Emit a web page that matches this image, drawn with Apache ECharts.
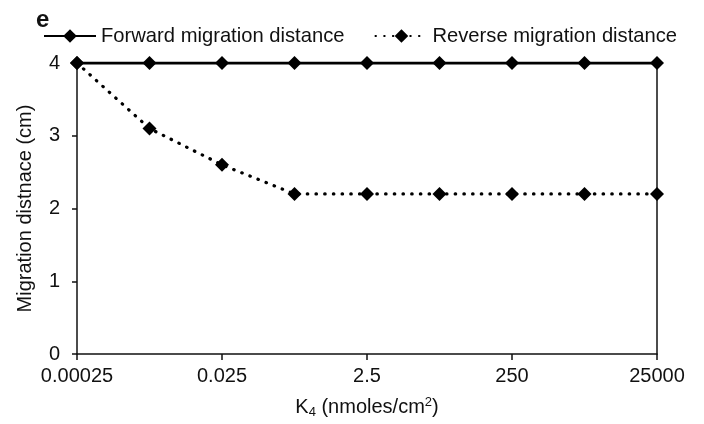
<!DOCTYPE html>
<html>
<head>
<meta charset="utf-8">
<script src="https://cdn.jsdelivr.net/npm/echarts@6/dist/echarts.min.js"></script>
<style>html,body{margin:0;padding:0;background:#fff}#c{width:704px;height:424px}</style>
</head>
<body>
<div id="c"></div>
<script>
var categories = ['0.00025', '0.0025', '0.025', '0.25', '2.5', '25', '250', '2500', '25000'];
var forward = [4, 4, 4, 4, 4, 4, 4, 4, 4];
var reverse = [4, 3.1, 2.6, 2.2, 2.2, 2.2, 2.2, 2.2, 2.2];
var yTicks = [0, 1, 2, 3, 4];

var FONT = '"Liberation Sans", Arial, sans-serif';
var chart = echarts.init(document.getElementById('c'), null, {renderer: 'canvas'});
chart.setOption({
  backgroundColor: '#fff',
  animation: false,
  textStyle: {fontFamily: FONT, color: '#111'},
  title: {
    text: 'e', left: 31, top: 3,
    textStyle: {fontFamily: FONT, fontWeight: 'bold', fontSize: 24, color: '#111'}
  },
  legend: {
    left: 43, top: 26, padding: 0,
    itemWidth: 52, itemHeight: 17, itemGap: 30,
    textStyle: {fontFamily: FONT, fontSize: 20.2, color: '#111'},
    data: ['Forward migration distance', 'Reverse migration distance']
  },
  grid: {left: 77, right: 47, top: 63, bottom: 70, containLabel: false},
  xAxis: {
    type: 'category',
    data: categories,
    boundaryGap: false,
    axisLine: {lineStyle: {color: '#111', width: 1.5}},
    axisTick: {show: true, interval: 1, length: 6, lineStyle: {color: '#111', width: 1.5}},
    axisLabel: {interval: 1, margin: 12, fontSize: 20, color: '#111', fontFamily: FONT},
    name: '{a|K}{sub|4}{a| (nmoles/cm}{sup|2}{a|)}',
    nameLocation: 'middle',
    nameGap: 42,
    nameTextStyle: {
      fontFamily: FONT, color: '#111',
      rich: {
        a: {fontSize: 20, fontFamily: FONT, color: '#111'},
        sub: {fontSize: 13, fontFamily: FONT, color: '#111', verticalAlign: 'bottom', padding: [10, 0, 0, 0]},
        sup: {fontSize: 13, fontFamily: FONT, color: '#111', verticalAlign: 'top', padding: [0, 0, 8, 0]}
      }
    }
  },
  yAxis: [{
    type: 'value',
    min: yTicks[0], max: yTicks[yTicks.length - 1], interval: 1,
    splitLine: {show: false},
    axisLine: {show: true, lineStyle: {color: '#111', width: 1.5}},
    axisTick: {show: true, length: 5, lineStyle: {color: '#111', width: 1.5}},
    axisLabel: {margin: 17, fontSize: 20, color: '#111', fontFamily: FONT},
    name: 'Migration distnace (cm)',
    nameLocation: 'middle',
    nameGap: 42,
    nameTextStyle: {fontSize: 20, fontFamily: FONT, color: '#111'}
  }, {
    type: 'value', position: 'right',
    min: yTicks[0], max: yTicks[yTicks.length - 1], interval: 1,
    splitLine: {show: false},
    axisLine: {show: true, lineStyle: {color: '#111', width: 1.5}},
    axisTick: {show: false},
    axisLabel: {show: false}
  }],
  series: [{
    name: 'Reverse migration distance',
    type: 'line',
    data: reverse,
    symbol: 'diamond', symbolSize: 14,
    itemStyle: {color: '#000'},
    lineStyle: {color: '#000', width: 3.2, type: [0.5, 8.2], cap: 'round'},
    z: 2
  }, {
    name: 'Forward migration distance',
    type: 'line',
    data: forward,
    symbol: 'diamond', symbolSize: 14,
    itemStyle: {color: '#000'},
    lineStyle: {color: '#000', width: 2.8},
    z: 3
  }]
});
</script>
</body>
</html>
